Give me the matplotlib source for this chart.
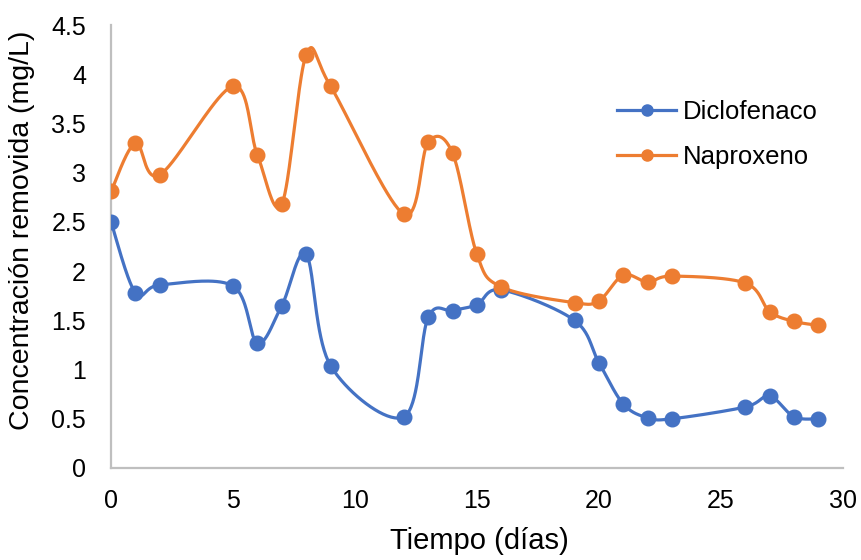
import numpy as np
import matplotlib.pyplot as plt

plt.rcParams['font.family'] = ['Liberation Sans', 'DejaVu Sans']

dias = [0, 1, 2, 5, 6, 7, 8, 9, 12, 13, 14, 15, 16, 19, 20, 21, 22, 23, 26, 27, 28, 29]
diclofenaco = [2.50, 1.78, 1.86, 1.85, 1.27, 1.65, 2.17, 1.04, 0.52, 1.53, 1.60, 1.66,
               1.81, 1.50, 1.07, 0.65, 0.51, 0.50, 0.62, 0.73, 0.52, 0.50]
naproxeno = [2.81, 3.30, 2.98, 3.88, 3.18, 2.68, 4.20, 3.88, 2.58, 3.31, 3.20, 2.17,
             1.84, 1.68, 1.70, 1.96, 1.89, 1.95, 1.88, 1.59, 1.49, 1.45]
y_ticks = [0, 0.5, 1, 1.5, 2, 2.5, 3, 3.5, 4, 4.5]
x_ticks = [0, 5, 10, 15, 20, 25, 30]


def suavizar(x, y, n=40):
    # curva tipo Excel: bezier por tramos con tangentes de Catmull-Rom
    x = np.asarray(x, float)
    y = np.asarray(y, float)
    t = np.linspace(0, 1, n)[1:]
    xs, ys = [x[0]], [y[0]]
    last = len(x) - 1
    for i in range(last):
        a = max(i - 1, 0)
        b = min(i + 2, last)
        c1x = x[i] + (x[i + 1] - x[a]) / 6
        c1y = y[i] + (y[i + 1] - y[a]) / 6
        c2x = x[i + 1] - (x[b] - x[i]) / 6
        c2y = y[i + 1] - (y[b] - y[i]) / 6
        u = 1 - t
        xs.extend(u**3 * x[i] + 3 * u**2 * t * c1x + 3 * u * t**2 * c2x + t**3 * x[i + 1])
        ys.extend(u**3 * y[i] + 3 * u**2 * t * c1y + 3 * u * t**2 * c2y + t**3 * y[i + 1])
    return xs, ys


fig = plt.figure(figsize=(8.62, 5.6), dpi=100)
ax = fig.add_axes([0.1288, 0.1643, 0.849, 0.7907])

series = [("Diclofenaco", diclofenaco, "#4472C4"), ("Naproxeno", naproxeno, "#ED7D31")]
for nombre, valores, color in series:
    sx, sy = suavizar(dias, valores)
    ax.plot(sx, sy, color=color, lw=2.3, solid_capstyle="round", zorder=2)
    ax.plot(dias, valores, "o", color=color, ms=10.5, zorder=3)
    ax.plot([], [], "-o", color=color, lw=2.3, ms=8, label=nombre)

ax.set_xlim(0, 30)
ax.set_ylim(0, 4.5)
ax.set_xticks(x_ticks)
ax.set_xticklabels([f"{v:g}" for v in x_ticks])
ax.set_yticks(y_ticks)
ax.set_yticklabels([f"{v:g}" for v in y_ticks])
ax.tick_params(length=0, labelsize=18, colors="#000000")
ax.tick_params(axis="x", pad=15)
ax.tick_params(axis="y", pad=18)

for lado in ["top", "right"]:
    ax.spines[lado].set_visible(False)
for lado in ["left", "bottom"]:
    ax.spines[lado].set_color("#BFBFBF")
    ax.spines[lado].set_linewidth(1.6)

ax.set_xlabel("Tiempo (días)", fontsize=21, va="center")
ax.set_ylabel("Concentración removida (mg/L)", fontsize=20.5, va="center")
ax.xaxis.set_label_coords(0.504, -0.165)
ax.yaxis.set_label_coords(-0.1216, 0.537)

ax.legend(loc="center left", bbox_to_anchor=(0.704, 0.76), bbox_transform=fig.transFigure,
          frameon=False, fontsize=18.5, handlelength=2.3, handletextpad=0.25,
          labelspacing=0.8, borderaxespad=0)

fig.savefig("out.png", dpi=100)
